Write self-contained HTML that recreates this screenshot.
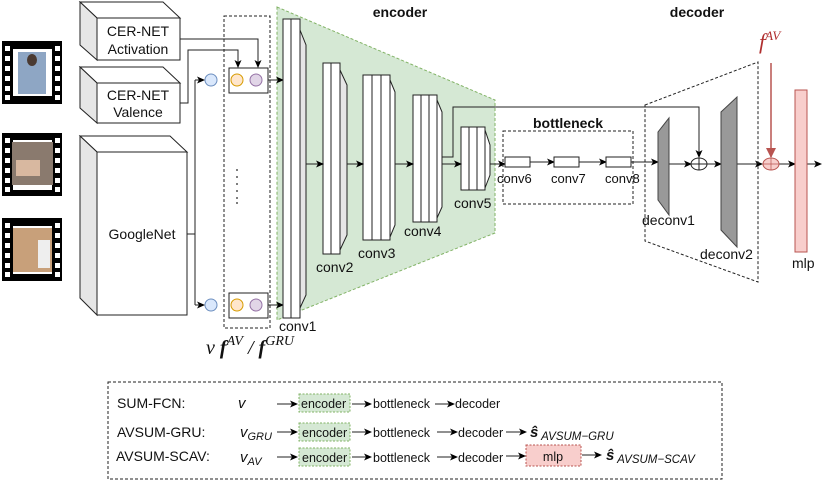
<!DOCTYPE html>
<html><head><meta charset="utf-8"><style>
html,body{margin:0;padding:0;background:#fff}
svg{display:block}
text{font-family:"Liberation Sans",sans-serif;fill:#111}
.m{font-family:"Liberation Serif",serif;font-style:italic}
</style></head><body>
<svg width="831" height="481" viewBox="0 0 831 481" xmlns="http://www.w3.org/2000/svg">
<defs>
<marker id="a" markerWidth="8" markerHeight="8" refX="7" refY="4" orient="auto" markerUnits="userSpaceOnUse"><path d="M0,0.5 L8,4 L0,7.5 L2,4 z" fill="#000"/></marker>
<marker id="ar" markerWidth="10" markerHeight="10" refX="9" refY="5" orient="auto" markerUnits="userSpaceOnUse"><path d="M0,0 L10,5 L0,10 z" fill="#b85450"/></marker>
</defs>
<!-- film strips -->
<g>
<rect x="2" y="41" width="60" height="63" fill="#000"/><rect x="13" y="49" width="39" height="47" fill="#fff"/><rect x="18" y="52" width="28" height="42" fill="#8ea6c4"/><ellipse cx="32" cy="60" rx="5" ry="6" fill="#4a3a32"/>
<rect x="2" y="133" width="60" height="63" fill="#000"/><rect x="13" y="140" width="39" height="50" fill="#fff"/><rect x="12" y="142" width="41" height="43" fill="#8a7a6e"/><rect x="16" y="160" width="24" height="16" fill="#d8b8a0"/>
<rect x="2" y="218" width="60" height="63" fill="#000"/><rect x="13" y="226" width="39" height="48" fill="#fff"/><rect x="13" y="228" width="39" height="44" fill="#c8a07a"/><rect x="38" y="240" width="12" height="28" fill="#eee"/>
<g fill="#fff">
<rect x="5" y="46" width="5" height="5"/><rect x="5" y="56" width="5" height="5"/><rect x="5" y="66" width="5" height="5"/><rect x="5" y="76" width="5" height="5"/><rect x="5" y="86" width="5" height="5"/><rect x="5" y="95" width="5" height="5"/>
<rect x="55" y="46" width="5" height="5"/><rect x="55" y="56" width="5" height="5"/><rect x="55" y="66" width="5" height="5"/><rect x="55" y="76" width="5" height="5"/><rect x="55" y="86" width="5" height="5"/><rect x="55" y="95" width="5" height="5"/>
<rect x="5" y="138" width="5" height="5"/><rect x="5" y="148" width="5" height="5"/><rect x="5" y="158" width="5" height="5"/><rect x="5" y="168" width="5" height="5"/><rect x="5" y="178" width="5" height="5"/><rect x="5" y="187" width="5" height="5"/>
<rect x="55" y="138" width="5" height="5"/><rect x="55" y="148" width="5" height="5"/><rect x="55" y="158" width="5" height="5"/><rect x="55" y="168" width="5" height="5"/><rect x="55" y="178" width="5" height="5"/><rect x="55" y="187" width="5" height="5"/>
<rect x="5" y="223" width="5" height="5"/><rect x="5" y="233" width="5" height="5"/><rect x="5" y="243" width="5" height="5"/><rect x="5" y="253" width="5" height="5"/><rect x="5" y="263" width="5" height="5"/><rect x="5" y="272" width="5" height="5"/>
<rect x="55" y="223" width="5" height="5"/><rect x="55" y="233" width="5" height="5"/><rect x="55" y="243" width="5" height="5"/><rect x="55" y="253" width="5" height="5"/><rect x="55" y="263" width="5" height="5"/><rect x="55" y="272" width="5" height="5"/>
</g></g>
<!-- 3D boxes -->
<g stroke="#222" stroke-width="1">
<path d="M80,2 L163,2 L180,18 L97,18 Z" fill="#fff"/><path d="M80,2 L97,18 L97,60 L80,45 Z" fill="#e6e6e6"/><rect x="97" y="18" width="83" height="42" fill="#fff"/>
<path d="M80,67 L163,67 L180,83 L97,83 Z" fill="#fff"/><path d="M80,67 L97,83 L97,123 L80,108 Z" fill="#e6e6e6"/><rect x="97" y="83" width="83" height="40" fill="#fff"/>
<path d="M80,136 L170,136 L187,152 L97,152 Z" fill="#fff"/><path d="M80,136 L97,152 L97,315 L80,298 Z" fill="#e6e6e6"/><rect x="97" y="152" width="90" height="163" fill="#fff"/>
</g>
<text x="138" y="36" font-size="14" text-anchor="middle">CER-NET</text>
<text x="138" y="54" font-size="14" text-anchor="middle">Activation</text>
<text x="138" y="100" font-size="14" text-anchor="middle">CER-NET</text>
<text x="138" y="117" font-size="14" text-anchor="middle">Valence</text>
<text x="142" y="239" font-size="14" text-anchor="middle">GoogleNet</text>
<!-- encoder green -->
<path d="M277,7 L495,100 L495,233 L277,320 Z" fill="#d5e8d4" stroke="#82b366" stroke-dasharray="3,2"/>
<!-- feature column -->
<rect x="224" y="16" width="46" height="312" fill="none" stroke="#222" stroke-dasharray="3,2"/>
<rect x="229" y="68" width="39" height="25" fill="#fff" stroke="#222"/>
<rect x="229" y="293" width="39" height="25" fill="#fff" stroke="#222"/>
<g stroke-width="1">
<circle cx="237" cy="80" r="6" fill="#ffe6cc" stroke="#d79b00"/><circle cx="256" cy="80" r="6" fill="#e1d5e7" stroke="#9673a6"/>
<circle cx="237" cy="305" r="6" fill="#ffe6cc" stroke="#d79b00"/><circle cx="256" cy="305" r="6" fill="#e1d5e7" stroke="#9673a6"/>
<circle cx="211" cy="80" r="6" fill="#dae8fc" stroke="#6c8ebf"/><circle cx="211" cy="305" r="6" fill="#dae8fc" stroke="#6c8ebf"/>
</g>
<g fill="#222"><circle cx="237" cy="170" r="0.9"/><circle cx="237" cy="177" r="0.9"/><circle cx="237" cy="184" r="0.9"/><circle cx="237" cy="191" r="0.9"/><circle cx="237" cy="198" r="0.9"/><circle cx="237" cy="203" r="0.9"/></g>
<g fill="none" stroke="#222" stroke-width="1">
<path d="M180,39 L258,39 L258,67" marker-end="url(#a)"/>
<path d="M180,103 L188,103 L188,50 L238,50 L238,67" marker-end="url(#a)"/>
<path d="M187,234 L195,234 M195,80 L195,305"/>
<path d="M195,80 L204,80" marker-end="url(#a)"/><path d="M195,305 L204,305" marker-end="url(#a)"/>
<path d="M268,80 L283,80" marker-end="url(#a)"/><path d="M268,305 L283,305" marker-end="url(#a)"/>
</g>
<!-- conv layers -->
<g stroke="#222" stroke-width="1" fill="#fff">
<path d="M300,30 L306,45 L306,295 L300,308 Z" fill="#e6e6e6"/><rect x="283" y="19" width="17" height="299"/><line x1="291" y1="19" x2="291" y2="318"/>
<path d="M340,70 L347,85 L347,235 L340,250 Z" fill="#e6e6e6"/><rect x="323" y="63" width="17" height="191"/><line x1="331" y1="63" x2="331" y2="254"/>
<path d="M390,80 L395,92 L395,225 L390,237 Z"/><rect x="363" y="75" width="27" height="165"/><line x1="372" y1="75" x2="372" y2="240"/><line x1="381" y1="75" x2="381" y2="240"/>
<path d="M437,100 L442,112 L442,207 L437,218 Z"/><rect x="413" y="95" width="24" height="127"/><line x1="421" y1="95" x2="421" y2="222"/><line x1="429" y1="95" x2="429" y2="222"/>
<path d="M485,130 L490,145 L490,175 L485,188 Z"/><rect x="461" y="127" width="24" height="63"/><line x1="469" y1="127" x2="469" y2="190"/><line x1="477" y1="127" x2="477" y2="190"/>
</g>
<g fill="none" stroke="#222" stroke-width="1">
<path d="M306,164 L323,164" marker-end="url(#a)"/>
<path d="M347,164 L363,164" marker-end="url(#a)"/>
<path d="M395,164 L413,164" marker-end="url(#a)"/>
<path d="M442,164 L461,164" marker-end="url(#a)"/>
<path d="M442,157 L453,157 L453,107 L699,107 L699,157" marker-end="url(#a)"/>
<path d="M490,164 L505,164" marker-end="url(#a)"/>
<path d="M530,162 L554,162" marker-end="url(#a)"/>
<path d="M579,162 L606,162" marker-end="url(#a)"/>
<path d="M631,162 L658,162" marker-end="url(#a)"/>
<path d="M669,164 L691,164" marker-end="url(#a)"/>
<path d="M707,164 L721,164" marker-end="url(#a)"/>
<path d="M737,164 L762,164" marker-end="url(#a)"/>
<path d="M779,164 L795,164" marker-end="url(#a)"/>
<path d="M807,164 L821,164" marker-end="url(#a)"/>
</g>
<text x="279" y="331" font-size="14">conv1</text>
<text x="316" y="272" font-size="14">conv2</text>
<text x="358" y="258" font-size="14">conv3</text>
<text x="404" y="236" font-size="14">conv4</text>
<text x="454" y="208" font-size="14">conv5</text>
<text x="400" y="17" font-size="14" font-weight="bold" text-anchor="middle">encoder</text>
<!-- bottleneck -->
<rect x="503" y="131" width="130" height="73" fill="none" stroke="#222" stroke-dasharray="3,2"/>
<text x="568" y="128" font-size="14" font-weight="bold" text-anchor="middle">bottleneck</text>
<g fill="#fff" stroke="#222"><rect x="505" y="157" width="25" height="10"/><rect x="554" y="157" width="25" height="10"/><rect x="606" y="157" width="25" height="10"/></g>
<text x="497" y="183" font-size="13">conv6</text><text x="551" y="183" font-size="13">conv7</text><text x="605" y="183" font-size="13">conv8</text>
<!-- decoder -->
<path d="M645,105 L758,62 L758,282 L645,241 Z" fill="none" stroke="#222" stroke-dasharray="3,2"/>
<text x="697" y="17" font-size="14" font-weight="bold" text-anchor="middle">decoder</text>
<path d="M658,132 L669,118 L669,215 L658,200 Z" fill="#999" stroke="#444"/>
<path d="M721,112 L737,97 L737,247 L721,230 Z" fill="#999" stroke="#444"/>
<ellipse cx="699" cy="164" rx="8" ry="6" fill="#fff" stroke="#222"/><path d="M691,164 L707,164 M699,158 L699,170" stroke="#222"/>
<text x="642" y="225" font-size="14">deconv1</text>
<text x="700" y="259" font-size="14">deconv2</text>
<text x="759" y="49" font-size="22" class="m" style="fill:#b03030">f<tspan font-size="13" dy="-9">AV</tspan></text>
<path d="M771,63 L771,157" stroke="#b85450" stroke-width="1.5" fill="none" marker-end="url(#ar)"/>
<ellipse cx="771" cy="164" rx="8" ry="6" fill="#f8cecc" stroke="#b85450"/><path d="M763,164 L779,164 M771,158 L771,170" stroke="#b85450" stroke-width="0.7"/>
<rect x="795" y="90" width="12" height="162" fill="#f8cecc" stroke="#b85450"/>
<text x="792" y="268" font-size="14">mlp</text>
<text x="206" y="354" font-size="20" class="m">v <tspan font-weight="bold">f</tspan><tspan font-size="14" dy="-9">AV</tspan><tspan dy="9"> / </tspan><tspan font-weight="bold">f</tspan><tspan font-size="14" dy="-9">GRU</tspan></text>
<!-- legend -->
<rect x="108" y="382" width="614" height="97" fill="none" stroke="#222" stroke-dasharray="3,2"/>
<g font-size="14">
<text x="117" y="408">SUM-FCN:</text><text x="117" y="437">AVSUM-GRU:</text><text x="116" y="461">AVSUM-SCAV:</text>
</g>
<g fill="#d5e8d4" stroke="#82b366" stroke-dasharray="2,1.5">
<rect x="299" y="394" width="51" height="18"/><rect x="299" y="423" width="51" height="18"/><rect x="299" y="448" width="51" height="18"/>
</g>
<rect x="526" y="445" width="55" height="21" fill="#f8cecc" stroke="#b85450" stroke-dasharray="2,1.5"/>
<g font-size="12.5">
<text x="301" y="408">encoder</text><text x="302" y="437">encoder</text><text x="302" y="462">encoder</text>
<text x="373" y="408">bottleneck</text><text x="373" y="437">bottleneck</text><text x="373" y="462">bottleneck</text>
<text x="455" y="408">decoder</text><text x="458" y="437">decoder</text><text x="458" y="462">decoder</text>
<text x="553" y="461" text-anchor="middle">mlp</text>
</g>
<g class="m" font-size="15">
<text x="238" y="408">v</text>
<text x="240" y="437">v<tspan font-size="11" dy="3">GRU</tspan></text>
<text x="240" y="462">v<tspan font-size="11" dy="3">AV</tspan></text>
<text x="530" y="437"><tspan font-weight="bold">ŝ</tspan><tspan font-size="11.5" dy="3"> AVSUM−GRU</tspan></text>
<text x="606" y="460"><tspan font-weight="bold">ŝ</tspan><tspan font-size="11.5" dy="3"> AVSUM−SCAV</tspan></text>
</g>
<g fill="none" stroke="#222">
<path d="M277,404 L297,404" marker-end="url(#a)"/><path d="M352,404 L371,404" marker-end="url(#a)"/><path d="M435,404 L454,404" marker-end="url(#a)"/>
<path d="M277,432 L297,432" marker-end="url(#a)"/><path d="M352,432 L371,432" marker-end="url(#a)"/><path d="M437,432 L457,432" marker-end="url(#a)"/><path d="M506,432 L526,432" marker-end="url(#a)"/>
<path d="M277,457 L297,457" marker-end="url(#a)"/><path d="M352,457 L371,457" marker-end="url(#a)"/><path d="M437,457 L457,457" marker-end="url(#a)"/><path d="M506,456 L525,456" marker-end="url(#a)"/><path d="M582,455 L601,455" marker-end="url(#a)"/>
</g>
</svg>
</body></html>
